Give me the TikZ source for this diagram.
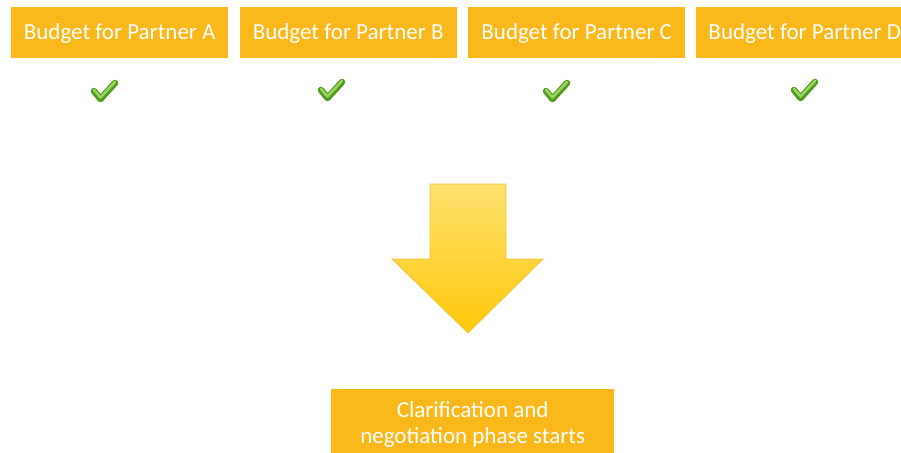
\documentclass[tikz,border=0pt]{standalone}
\usepackage{fontspec}
\setmainfont{Carlito}
\definecolor{boxor}{HTML}{FBB81A}
\definecolor{chkdark}{HTML}{4E9A1E}
\definecolor{chklight}{HTML}{9BD45A}
\definecolor{arrtop}{HTML}{FFE370}
\definecolor{arrbot}{HTML}{FFC708}
\definecolor{arrline}{HTML}{F2C23A}
\begin{document}
\begin{tikzpicture}[x=1pt,y=-1pt,
  budget/.style={fill=boxor,text=white,font=\fontsize{23}{26}\selectfont,minimum width=217pt,minimum height=51pt,inner sep=0pt,anchor=north west,text depth=3pt},
  phase/.style={fill=boxor,text=white,font=\fontsize{23}{26}\selectfont,minimum width=283pt,minimum height=66pt,inner sep=0pt,anchor=north west,align=center,text depth=0pt}]
\useasboundingbox (0,0) rectangle (901,452);
\clip (0,0) rectangle (901,452);
\node[budget] (a) at (11,7) {Budget for Partner A};
\node[budget] (b) at (239.5,7) {Budget for Partner B};
\node[budget] (c) at (468,7) {Budget for Partner C};
\node[budget] (d) at (696,7) {Budget for Partner D};
\node[phase] (p) at (331,389) {Clarification and\\negotiation phase starts};
% check marks
\newcommand{\chk}[2]{%
  \begin{scope}[shift={(#1,#2)}]
    \draw[line width=6.5pt,chkdark,line cap=round,line join=round] (-10,-1) -- (-3.5,7) -- (11,-9);
    \draw[line width=2.6pt,chklight,line cap=round,line join=round] (-10,-2) -- (-3.5,5.5) -- (11,-10);
  \end{scope}}
\chk{104}{92}
\chk{331}{91}
\chk{556}{92}
\chk{804}{91}
% arrow
\shade[top color=arrtop,bottom color=arrbot,draw=arrline,line width=0.8pt]
  (430,184) -- (506,184) -- (506,259) -- (543,259) -- (468,333) -- (392,259) -- (430,259) -- cycle;
\end{tikzpicture}
\end{document}
